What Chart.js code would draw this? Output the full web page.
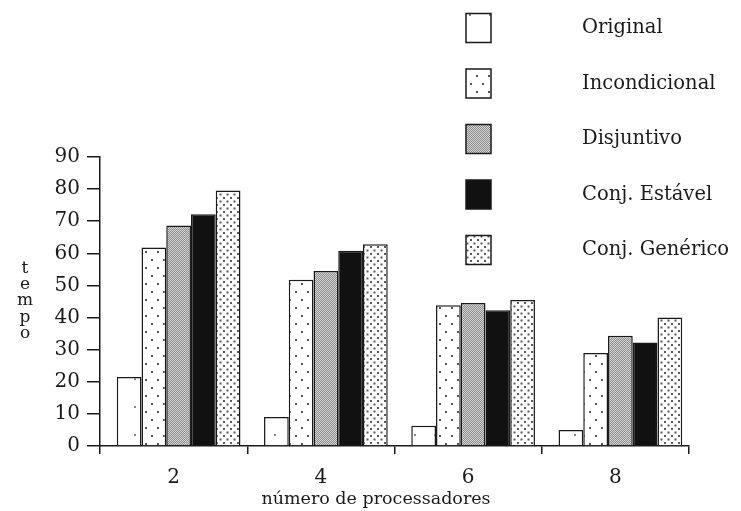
<!DOCTYPE html>
<html>
<head>
<meta charset="utf-8">
<script src="https://cdn.jsdelivr.net/npm/chart.js@4"></script>
<style>
  html, body { margin: 0; padding: 0; background: #fff; }
  #wrap { width: 741px; height: 511px; position: relative; }
</style>
</head>
<body>
<div id="wrap"><canvas id="chart"></canvas></div>
<script>
/* =========================
   Data
========================= */
const categories = ["2", "4", "6", "8"];
const seriesNames = ["Original", "Incondicional", "Disjuntivo", "Conj. Estável", "Conj. Genérico"];
const original = [21.5, 9, 6.3, 5];
const incondicional = [61.8, 51.8, 43.8, 29];
const disjuntivo = [68.7, 54.5, 44.5, 34.3];
const estavel = [72.2, 60.8, 42.3, 32.2];
const generico = [79.6, 62.8, 45.5, 40];
const yTicks = [0, 10, 20, 30, 40, 50, 60, 70, 80, 90];
const yTitle = "tempo";
const xTitle = "número de processadores";

const FONT = "'DejaVu Serif', 'Liberation Serif', serif";
const INK = "#1a1a1a";

/* =========================
   Fill patterns
========================= */
function makePattern(w, h, draw) {
  const c = document.createElement("canvas");
  c.width = w; c.height = h;
  const g = c.getContext("2d");
  g.fillStyle = "#fff";
  g.fillRect(0, 0, w, h);
  draw(g);
  return g.createPattern(c, "repeat");
}

function dot(g, x, y, r, color) {
  g.fillStyle = color;
  g.fillRect(x, y, r, r);
}

const fills = [
  // Original: almost blank, very sparse dots
  makePattern(20, 28, (g) => dot(g, 9, 14, 2, "#888")),
  // Incondicional: sparse staggered dots
  makePattern(12, 16, (g) => { dot(g, 2, 3, 2, "#555"); dot(g, 8, 11, 2, "#555"); }),
  // Disjuntivo: fine grey checker stipple
  makePattern(2, 2, (g) => {
    dot(g, 0, 0, 1, "#8c8c8c"); dot(g, 1, 1, 1, "#8c8c8c");
    dot(g, 1, 0, 1, "#d6d6d6"); dot(g, 0, 1, 1, "#d6d6d6");
  }),
  // Conj. Estável: solid black
  "#111",
  // Conj. Genérico: denser staggered dots
  makePattern(7, 7, (g) => { dot(g, 1, 1, 2, "#5a5a5a"); dot(g, 4.5, 4.5, 2, "#5a5a5a"); })
];

const seriesData = [original, incondicional, disjuntivo, estavel, generico];

/* =========================
   Plugins
========================= */
// bars sit a little right of the category centre in the original
const barShift = {
  id: "barShift",
  beforeDatasetsDraw(chart) { chart.ctx.save(); chart.ctx.translate(5, 0); },
  afterDatasetsDraw(chart) { chart.ctx.restore(); }
};

const customLegend = {
  id: "customLegend",
  afterDraw(chart) {
    const ctx = chart.ctx;
    ctx.save();
    chart.data.datasets.forEach((ds, i) => {
      const cy = 28 + i * 55.5;
      const bx = 466, bw = 25, bh = 29;
      ctx.fillStyle = ds.backgroundColor;
      ctx.fillRect(bx, cy - bh / 2, bw, bh);
      ctx.strokeStyle = INK;
      ctx.lineWidth = 1.5;
      ctx.strokeRect(bx, cy - bh / 2, bw, bh);
      ctx.fillStyle = INK;
      ctx.font = "19.5px " + FONT;
      ctx.textAlign = "left";
      ctx.textBaseline = "middle";
      ctx.fillText(ds.label, 582, cy);
    });
    ctx.restore();
  }
};

const axisTitles = {
  id: "axisTitles",
  afterDraw(chart) {
    const ctx = chart.ctx;
    ctx.save();
    ctx.fillStyle = INK;
    ctx.font = "17px " + FONT;
    ctx.textAlign = "center";
    ctx.textBaseline = "alphabetic";
    // stacked vertical letters
    [...yTitle].forEach((ch, i) => ctx.fillText(ch, 25, 273 + i * 16.2));
    ctx.font = "17.5px " + FONT;
    ctx.fillText(xTitle, 376, 504);
    ctx.restore();
  }
};

/* =========================
   Chart
========================= */
const chart = new Chart(document.getElementById("chart"), {
  type: "bar",
  data: {
    labels: categories,
    datasets: seriesNames.map((name, i) => ({
      label: name,
      data: seriesData[i],
      backgroundColor: fills[i],
      borderColor: INK,
      borderWidth: 1.5,
      borderSkipped: "bottom",
      categoryPercentage: 0.84,
      barPercentage: 1.0
    }))
  },
  options: {
    responsive: true,
    maintainAspectRatio: false,
    animation: false,
    events: [],
    layout: { padding: { left: 0, top: 157, right: 52, bottom: 20 } },
    plugins: { legend: { display: false }, tooltip: { enabled: false } },
    scales: {
      x: {
        grid: { display: true, drawOnChartArea: false, drawTicks: true, tickLength: 8, color: INK, lineWidth: 1.5 },
        border: { display: true, color: INK, width: 1.5 },
        ticks: { color: INK, font: { family: FONT, size: 20 }, padding: 12 },
        afterFit: (s) => { s.height = 45; }
      },
      y: {
        min: 0,
        max: 90,
        afterBuildTicks: (s) => { s.ticks = yTicks.map((v) => ({ value: v })); },
        grid: { display: true, drawOnChartArea: false, drawTicks: true, tickLength: 13, color: INK, lineWidth: 1.5 },
        border: { display: true, color: INK, width: 1.5 },
        ticks: { color: INK, font: { family: FONT, size: 20 }, padding: 7 },
        afterFit: (s) => { s.width = 100; }
      }
    }
  },
  plugins: [barShift, customLegend, axisTitles]
});
</script>
</body>
</html>
